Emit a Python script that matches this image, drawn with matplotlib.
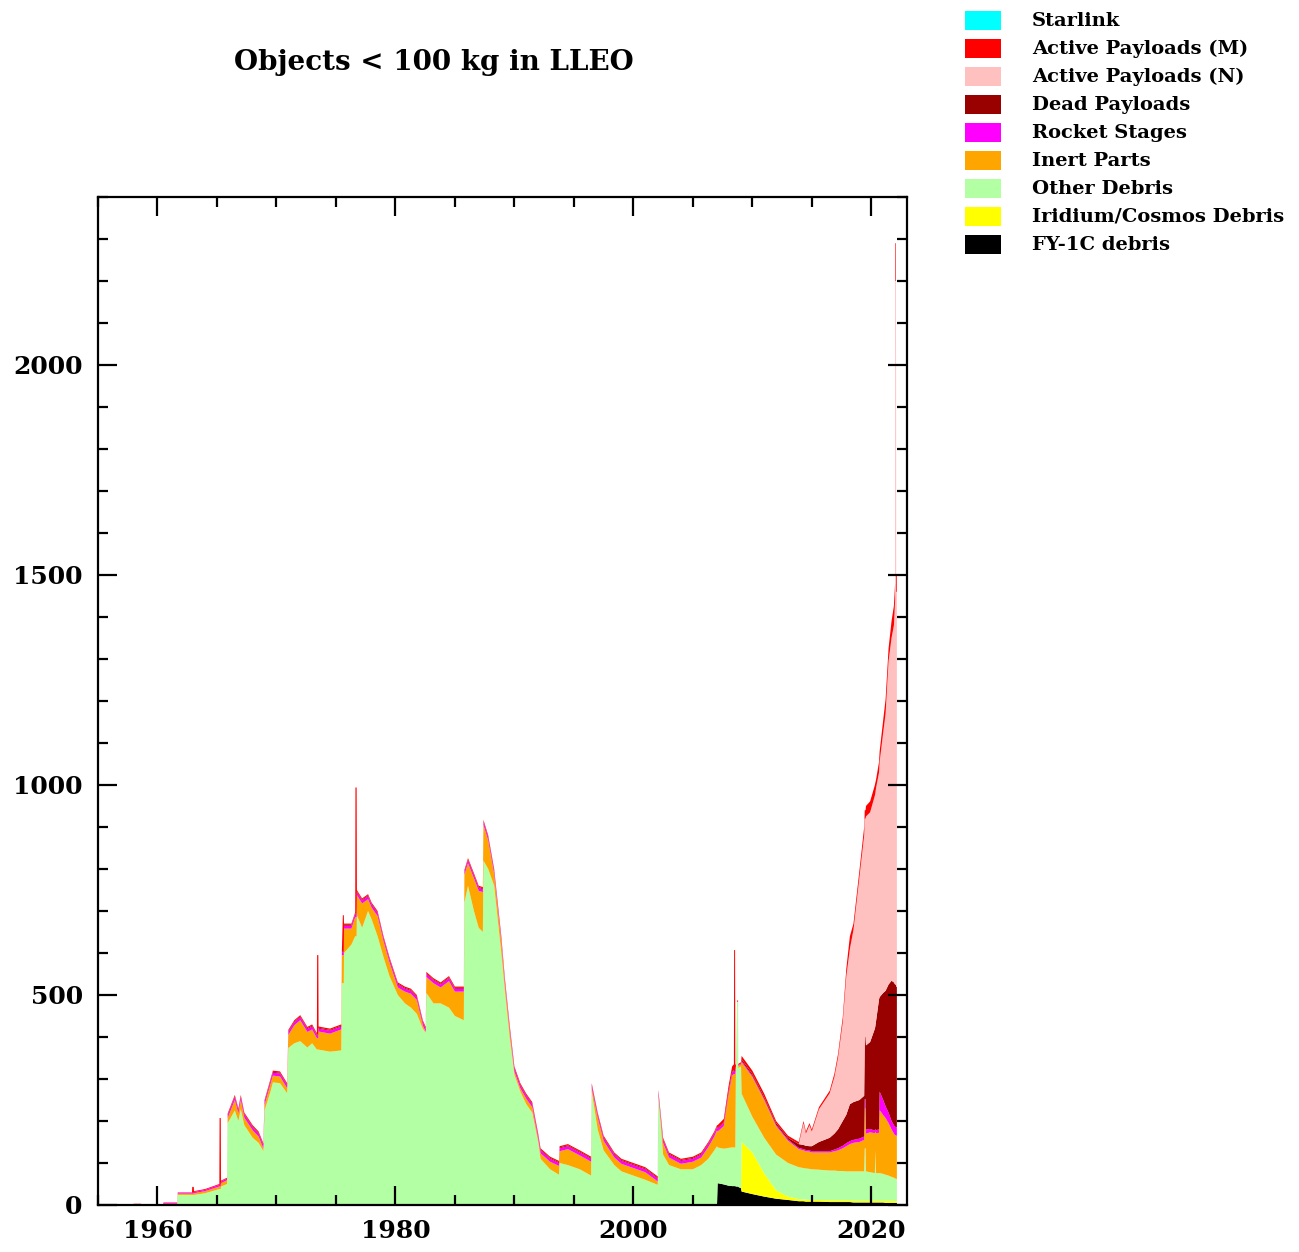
import matplotlib
matplotlib.use("Agg")
import matplotlib.pyplot as plt
from matplotlib.patches import Rectangle
from matplotlib.ticker import MultipleLocator
import numpy as np

# ---------------- data ----------------
years = [1955.0, 1957.95, 1958.0, 1958.6, 1958.65, 1960.45, 1960.5, 1961.65, 1961.7, 1962.9,
         1962.92, 1963.05, 1963.07, 1964.0, 1965.2, 1965.22, 1965.32, 1965.34, 1965.85, 1965.9,
         1966.5, 1966.8, 1967.0, 1967.3, 1968.0, 1968.5, 1968.9, 1969.0, 1969.5, 1969.7,
         1970.3, 1970.9, 1971.0, 1971.5, 1972.0, 1972.6, 1973.0, 1973.4, 1973.42, 1973.52,
         1973.54, 1974.5, 1975.45, 1975.5, 1975.58, 1975.66, 1975.68, 1976.3, 1976.62, 1976.64,
         1976.74, 1976.76, 1977.2, 1977.7, 1978.0, 1978.5, 1979.0, 1979.5, 1980.2, 1980.8,
         1981.3, 1981.8, 1982.3, 1982.55, 1982.6, 1983.2, 1983.8, 1984.5, 1985.0, 1985.75,
         1985.8, 1986.1, 1986.6, 1987.0, 1987.35, 1987.4, 1987.8, 1988.3, 1988.9, 1989.2,
         1989.6, 1990.0, 1990.5, 1991.0, 1991.5, 1992.0, 1992.2, 1993.0, 1993.75, 1993.8,
         1994.5, 1995.5, 1996.45, 1996.5, 1997.0, 1997.5, 1998.4, 1999.0, 2000.0, 2001.0,
         2002.05, 2002.1, 2002.5, 2003.0, 2004.0, 2005.0, 2005.7, 2006.3, 2006.8, 2007.03,
         2007.08, 2007.6, 2008.0, 2008.3, 2008.45, 2008.47, 2008.55, 2008.57, 2008.62, 2008.72,
         2008.8, 2008.82, 2009.05, 2009.1, 2010.0, 2011.0, 2012.0, 2013.0, 2013.9, 2014.3,
         2014.5, 2014.8, 2015.0, 2015.6, 2016.5, 2016.9, 2017.2, 2017.6, 2017.9, 2018.2,
         2018.5, 2019.0, 2019.4, 2019.45, 2019.52, 2019.55, 2019.9, 2020.3, 2020.33, 2020.4,
         2020.65, 2020.7, 2021.0, 2021.2, 2021.45, 2021.7, 2021.9, 2022.0, 2022.02, 2022.07,
         2022.09, 2022.15]

fy1c_debris = [0, 0, 0, 0, 0, 0, 0, 0, 0, 0,
               0, 0, 0, 0, 0, 0, 0, 0, 0, 0,
               0, 0, 0, 0, 0, 0, 0, 0, 0, 0,
               0, 0, 0, 0, 0, 0, 0, 0, 0, 0,
               0, 0, 0, 0, 0, 0, 0, 0, 0, 0,
               0, 0, 0, 0, 0, 0, 0, 0, 0, 0,
               0, 0, 0, 0, 0, 0, 0, 0, 0, 0,
               0, 0, 0, 0, 0, 0, 0, 0, 0, 0,
               0, 0, 0, 0, 0, 0, 0, 0, 0, 0,
               0, 0, 0, 0, 0, 0, 0, 0, 0, 0,
               0, 0, 0, 0, 0, 0, 0, 0, 0, 0,
               52, 49, 46, 45, 45, 45, 45, 45, 44, 44,
               44, 43, 40, 32, 26, 20, 15, 12, 9, 9,
               8, 8, 8, 8, 7, 7, 7, 7, 7, 7,
               6, 6, 6, 6, 6, 6, 6, 6, 6, 6,
               6, 6, 6, 5, 5, 5, 5, 5, 5, 5,
               5, 5]

iridium_cosmos = [0, 0, 0, 0, 0, 0, 0, 0, 0, 0,
                  0, 0, 0, 0, 0, 0, 0, 0, 0, 0,
                  0, 0, 0, 0, 0, 0, 0, 0, 0, 0,
                  0, 0, 0, 0, 0, 0, 0, 0, 0, 0,
                  0, 0, 0, 0, 0, 0, 0, 0, 0, 0,
                  0, 0, 0, 0, 0, 0, 0, 0, 0, 0,
                  0, 0, 0, 0, 0, 0, 0, 0, 0, 0,
                  0, 0, 0, 0, 0, 0, 0, 0, 0, 0,
                  0, 0, 0, 0, 0, 0, 0, 0, 0, 0,
                  0, 0, 0, 0, 0, 0, 0, 0, 0, 0,
                  0, 0, 0, 0, 0, 0, 0, 0, 0, 0,
                  0, 0, 0, 0, 0, 0, 0, 0, 0, 0,
                  0, 0, 0, 118, 99, 55, 20, 8, 5, 4,
                  5, 4, 4, 4, 4, 4, 4, 4, 4, 4,
                  4, 4, 4, 4, 4, 4, 4, 4, 4, 4,
                  4, 4, 4, 5, 5, 5, 5, 4, 4, 4,
                  4, 4]

other_debris = [0, 0, 0, 0, 0, 0, 0, 0, 24, 24,
                24, 24, 24, 28, 38, 38, 38, 44, 50, 195,
                225, 200, 228, 190, 160, 148, 128, 225, 270, 292,
                290, 266, 374, 385, 390, 375, 385, 370, 370, 370,
                370, 365, 368, 528, 528, 528, 600, 620, 640, 640,
                640, 690, 660, 700, 680, 640, 590, 545, 500, 480,
                470, 455, 420, 410, 505, 480, 480, 470, 450, 440,
                720, 760, 700, 660, 650, 820, 800, 760, 600, 510,
                400, 310, 270, 240, 220, 150, 110, 85, 72, 100,
                95, 85, 70, 270, 180, 130, 95, 80, 70, 60,
                48, 260, 120, 95, 85, 85, 95, 110, 130, 140,
                85, 85, 90, 92, 92, 92, 92, 92, 280, 440,
                440, 283, 290, 115, 85, 85, 85, 80, 76, 75,
                74, 74, 73, 72, 71, 71, 70, 70, 69, 69,
                70, 70, 70, 125, 125, 70, 68, 66, 120, 66,
                66, 66, 64, 62, 60, 57, 55, 54, 54, 54,
                53, 53]

inert_parts = [0, 0, 0, 0, 0, 0, 3, 3, 3, 3,
               3, 3, 4, 5, 6, 6, 6, 8, 9, 12,
               25, 18, 22, 18, 18, 15, 7, 13, 18, 16,
               16, 12, 31, 43, 50, 37, 33, 27, 27, 27,
               43, 43, 50, 67, 67, 67, 58, 38, 45, 45,
               45, 48, 58, 28, 28, 48, 38, 33, 18, 28,
               33, 33, 8, 2, 38, 48, 38, 63, 58, 68,
               66, 54, 78, 88, 95, 85, 68, 28, 28, 18,
               18, 8, 8, 13, 13, 8, 13, 18, 21, 28,
               38, 33, 33, 8, 28, 23, 18, 18, 18, 18,
               8, 2, 28, 18, 13, 18, 18, 28, 33, 38,
               38, 54, 126, 171, 175, 175, 175, 175, 5, 0,
               0, 5, 5, 75, 95, 90, 68, 53, 43, 42,
               41, 41, 40, 41, 43, 46, 49, 54, 60, 65,
               68, 70, 75, 95, 95, 90, 95, 95, 45, 95,
               96, 150, 140, 135, 125, 113, 105, 103, 103, 103,
               103, 103]

rocket_stages = [0, 0, 2, 2, 0, 0, 2, 2, 2, 2,
                 2, 2, 3, 3, 4, 4, 4, 4, 4, 6,
                 7, 7, 7, 7, 7, 7, 7, 7, 7, 7,
                 7, 7, 7, 7, 7, 7, 7, 7, 7, 7,
                 7, 7, 7, 7, 7, 7, 7, 7, 7, 7,
                 7, 7, 7, 7, 7, 7, 7, 7, 7, 7,
                 7, 7, 7, 7, 7, 7, 7, 7, 7, 7,
                 7, 7, 7, 7, 7, 7, 7, 7, 7, 7,
                 7, 7, 7, 7, 7, 7, 7, 7, 7, 7,
                 7, 7, 7, 7, 7, 7, 7, 7, 7, 7,
                 7, 7, 7, 7, 7, 7, 7, 7, 7, 7,
                 7, 7, 7, 7, 7, 7, 7, 7, 2, 0,
                 0, 2, 2, 3, 3, 3, 3, 3, 3, 3,
                 3, 3, 3, 3, 3, 4, 5, 6, 7, 7,
                 7, 8, 8, 22, 22, 10, 8, 6, 6, 7,
                 8, 44, 36, 28, 25, 20, 20, 20, 20, 20,
                 20, 20]

dead_payloads = [0, 0, 0, 0, 0, 0, 0, 0, 0, 0,
                 0, 0, 0, 0, 0, 0, 0, 0, 0, 2,
                 2, 2, 2, 2, 2, 2, 2, 2, 2, 2,
                 2, 2, 2, 2, 2, 2, 2, 2, 2, 2,
                 2, 2, 2, 2, 2, 2, 2, 2, 2, 2,
                 2, 2, 2, 2, 2, 2, 2, 2, 2, 2,
                 2, 2, 2, 2, 2, 2, 2, 2, 2, 2,
                 2, 2, 2, 2, 2, 2, 2, 2, 2, 2,
                 2, 2, 2, 2, 2, 2, 2, 2, 2, 2,
                 2, 2, 2, 2, 2, 2, 2, 2, 2, 2,
                 2, 2, 2, 2, 2, 2, 2, 2, 2, 2,
                 2, 2, 2, 2, 2, 2, 2, 2, 0, 0,
                 0, 0, 0, 4, 4, 4, 4, 4, 9, 10,
                 10, 10, 12, 22, 32, 38, 45, 59, 68, 88,
                 90, 92, 97, 148, 148, 200, 207, 243, 243, 260,
                 310, 225, 255, 275, 305, 334, 340, 339, 339, 339,
                 335, 335]

active_payloads_n = [0, 0, 0, 0, 0, 0, 0, 0, 0, 0,
                     0, 0, 0, 0, 0, 0, 0, 0, 0, 0,
                     0, 0, 0, 0, 0, 0, 0, 0, 0, 0,
                     0, 0, 0, 0, 0, 0, 0, 0, 0, 0,
                     0, 0, 0, 0, 0, 0, 0, 0, 0, 0,
                     0, 0, 0, 0, 0, 0, 0, 0, 0, 0,
                     0, 0, 0, 0, 0, 0, 0, 0, 0, 0,
                     0, 0, 0, 0, 0, 0, 0, 0, 0, 0,
                     0, 0, 0, 0, 0, 0, 0, 0, 0, 0,
                     0, 0, 0, 0, 0, 0, 0, 0, 0, 0,
                     0, 0, 0, 0, 0, 0, 0, 0, 0, 0,
                     0, 0, 0, 0, 0, 0, 0, 0, 0, 0,
                     0, 0, 0, 0, 0, 0, 0, 0, 0, 52,
                     29, 50, 35, 78, 106, 135, 170, 235, 330, 370,
                     410, 530, 620, 520, 520, 545, 547, 555, 555, 555,
                     540, 560, 620, 660, 770, 816, 850, 915, 1675, 1675,
                     940, 940]

active_payloads_m = [0, 0, 1, 1, 0, 0, 1, 1, 1, 1,
                     14, 14, 2, 2, 2, 159, 159, 2, 2, 3,
                     3, 3, 3, 3, 3, 3, 3, 3, 3, 3,
                     3, 3, 3, 3, 3, 3, 3, 3, 189, 189,
                     3, 3, 3, 3, 86, 86, 3, 3, 3, 300,
                     300, 3, 3, 3, 3, 3, 3, 3, 3, 3,
                     3, 3, 3, 3, 3, 3, 3, 3, 3, 3,
                     3, 3, 3, 3, 3, 3, 3, 3, 3, 3,
                     3, 3, 3, 3, 3, 3, 3, 3, 3, 3,
                     3, 3, 3, 3, 3, 3, 3, 3, 3, 3,
                     3, 3, 3, 3, 3, 3, 3, 3, 3, 3,
                     6, 8, 12, 13, 14, 286, 286, 14, 3, 3,
                     3, 3, 3, 8, 8, 8, 5, 5, 5, 5,
                     5, 5, 5, 5, 6, 8, 9, 12, 18, 30,
                     15, 16, 20, 20, 20, 25, 26, 25, 25, 20,
                     25, 25, 30, 34, 30, 40, 47, 40, 90, 90,
                     40, 40]

starlink = [0] * len(years)

labels = ["Starlink", "Active Payloads (M)", "Active Payloads (N)", "Dead Payloads",
          "Rocket Stages", "Inert Parts", "Other Debris", "Iridium/Cosmos Debris", "FY-1C debris"]
colors = ["#00FFFF", "#FF0000", "#FFC0C0", "#990000", "#FF00FF", "#FFA500",
          "#B3FFA3", "#FFFF00", "#000000"]

x_major = [1960, 1980, 2000, 2020]
y_major = [0, 500, 1000, 1500, 2000]

# ---------------- figure ----------------
W, H = 1299, 1252
fig = plt.figure(figsize=(W / 100, H / 100), dpi=100)
ax = fig.add_axes([98 / W, (H - 1205) / H, 809 / W, 1008 / H])

stack = [fy1c_debris, iridium_cosmos, other_debris, inert_parts, rocket_stages,
         dead_payloads, active_payloads_n, active_payloads_m, starlink]
stack_colors = colors[::-1]
ax.stackplot(years, *stack, colors=stack_colors, linewidth=0)

ax.set_xlim(1955, 2023)
ax.set_ylim(0, 2400)

font = dict(family="DejaVu Serif", weight="bold")
ax.set_xticks(x_major)
ax.set_yticks(y_major)
ax.xaxis.set_minor_locator(MultipleLocator(5))
ax.yaxis.set_minor_locator(MultipleLocator(100))
ax.set_xticklabels([str(v) for v in x_major], fontsize=18, **font)
ax.set_yticklabels([str(v) for v in y_major], fontsize=18, **font)
ax.tick_params(which="both", direction="in", top=True, right=True, width=1.6, colors="black")
ax.tick_params(which="major", length=14)
ax.tick_params(which="minor", length=7.5)
ax.tick_params(axis="y", which="major", pad=11)
ax.tick_params(axis="x", which="major", pad=10)
for sp in ax.spines.values():
    sp.set_linewidth(1.6)

fig.text(434 / W, 1 - 62 / H, "Objects < 100 kg in LLEO", ha="center", va="center",
         fontsize=20, **font)

# legend (manual layout, top right of figure)
for i, (lab, col) in enumerate(zip(labels, colors)):
    yc = 20.5 + 28 * i
    fig.patches.append(Rectangle((965 / W, 1 - (yc + 9) / H), 36 / W, 18 / H,
                                 transform=fig.transFigure, facecolor=col, edgecolor="none"))
    fig.text(1032 / W, 1 - yc / H, lab, ha="left", va="center", fontsize=14, **font)

fig.savefig("out.png", dpi=100)
